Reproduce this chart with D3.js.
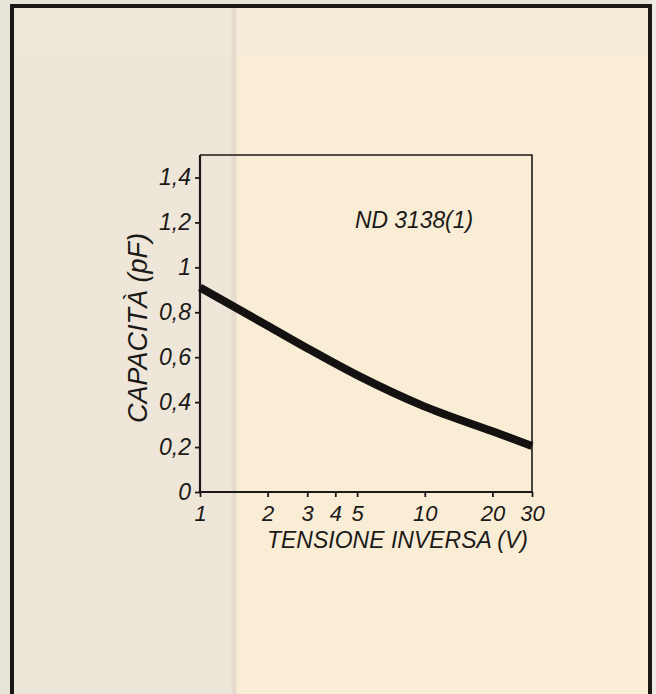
<!DOCTYPE html>
<html>
<head>
<meta charset="utf-8">
<script src="https://cdn.jsdelivr.net/npm/d3@7"></script>
<style>
html,body{margin:0;padding:0;background:#e8e3d9;}
svg{display:block;}
</style>
</head>
<body>
<svg id="chart" width="656" height="694"></svg>
<script>
// ---- data ----
const voltage = [1, 2, 3, 5, 10, 20, 30];
const capacitance = [0.91, 0.74, 0.64, 0.52, 0.38, 0.27, 0.205];
const xTicks = [1, 2, 3, 4, 5, 10, 20, 30];
const yTicks = [0, 0.2, 0.4, 0.6, 0.8, 1, 1.2, 1.4];
const seriesLabel = "ND 3138(1)";
const xTitle = "TENSIONE INVERSA (V)";
const yTitle = "CAPACITÀ (pF)";

(function () {
const svg = d3.select("#chart");
const W = 656, H = 694;

// page / panel background
svg.append("rect").attr("x", 0).attr("y", 0).attr("width", W).attr("height", H).attr("fill", "#e8e3d9");
svg.append("rect").attr("x", 652).attr("y", 0).attr("width", 4).attr("height", H).attr("fill", "#efebe4");
svg.append("rect").attr("x", 12).attr("y", 6).attr("width", 638).attr("height", H).attr("fill", "#f9edd6");
svg.append("rect").attr("x", 12).attr("y", 6).attr("width", 222).attr("height", H).attr("fill", "#eee6d8");
svg.append("rect").attr("x", 12).attr("y", 6).attr("width", 638).attr("height", 50).attr("fill", "#f0e9dc").attr("opacity", 0.4);
// faint bleed-through divider
svg.append("line").attr("x1", 234).attr("x2", 234).attr("y1", 6).attr("y2", H)
  .attr("stroke", "#e5dccd").attr("stroke-width", 5);

// outer frame (open at the bottom)
svg.append("path")
  .attr("d", `M12,${H} L12,6 L650,6 L650,${H}`)
  .attr("fill", "none").attr("stroke", "#1a1714").attr("stroke-width", 4);

// ---- chart ----
const pL = 200, pR = 532, pT = 155, pB = 492;
const x = d3.scaleLog().domain([1, 30]).range([pL, pR]);
const y = d3.scaleLinear().domain([0, 1.5]).range([pB, pT]);

const ink = "#1c1a18";
const font = "'Liberation Sans', Arial, sans-serif";

// plot box top & right
svg.append("path")
  .attr("d", `M${pL},${pT} L${pR},${pT} L${pR},${pB}`)
  .attr("fill", "none").attr("stroke", ink).attr("stroke-width", 1.6);

// x axis
const xAxis = d3.axisBottom(x).tickValues(xTicks).tickFormat(d3.format("d")).tickSize(5).tickPadding(8);
const gx = svg.append("g").attr("transform", `translate(0,${pB})`).call(xAxis);
gx.select(".domain").attr("stroke", ink).attr("stroke-width", 2.2).attr("d", `M${pL},0H${pR}`);
gx.selectAll(".tick line").attr("stroke", ink).attr("stroke-width", 1.8);
gx.selectAll(".tick text").attr("fill", ink).attr("font-family", font).attr("font-style", "italic")
  .attr("font-size", 22).attr("dy", "0.71em");

// y axis
const yAxis = d3.axisLeft(y).tickValues(yTicks)
  .tickFormat(d => d === 0 ? "0" : d === 1 ? "1" : d3.format(".1f")(d).replace(".", ","))
  .tickSize(5).tickPadding(4);
const gy = svg.append("g").attr("transform", `translate(${pL},0)`).call(yAxis);
gy.select(".domain").attr("stroke", ink).attr("stroke-width", 2.2).attr("d", `M0,${pB}V${pT}`);
gy.selectAll(".tick line").attr("stroke", ink).attr("stroke-width", 1.8);
gy.selectAll(".tick text").attr("fill", ink).attr("font-family", font).attr("font-style", "italic")
  .attr("font-size", 23);

// curve
const line = d3.line().x((d, i) => x(voltage[i])).y(d => y(d)).curve(d3.curveMonotoneX);
svg.append("path").datum(capacitance).attr("d", line)
  .attr("fill", "none").attr("stroke", "#141210").attr("stroke-width", 8).attr("stroke-linecap", "butt");

// series label
svg.append("text").attr("x", 355).attr("y", 228).text(seriesLabel)
  .attr("font-family", font).attr("font-style", "italic").attr("font-size", 24).attr("fill", ink)
  .attr("textLength", 118).attr("lengthAdjust", "spacingAndGlyphs");

// axis titles
svg.append("text").attr("x", 267).attr("y", 548).text(xTitle)
  .attr("font-family", font).attr("font-style", "italic").attr("font-size", 23).attr("fill", ink)
  .attr("textLength", 261).attr("lengthAdjust", "spacingAndGlyphs");

svg.append("text").attr("transform", "translate(147,423) rotate(-90)").text(yTitle)
  .attr("font-family", font).attr("font-style", "italic").attr("font-size", 27).attr("fill", ink)
  .attr("textLength", 190).attr("lengthAdjust", "spacingAndGlyphs");
})();
</script>
</body>
</html>
